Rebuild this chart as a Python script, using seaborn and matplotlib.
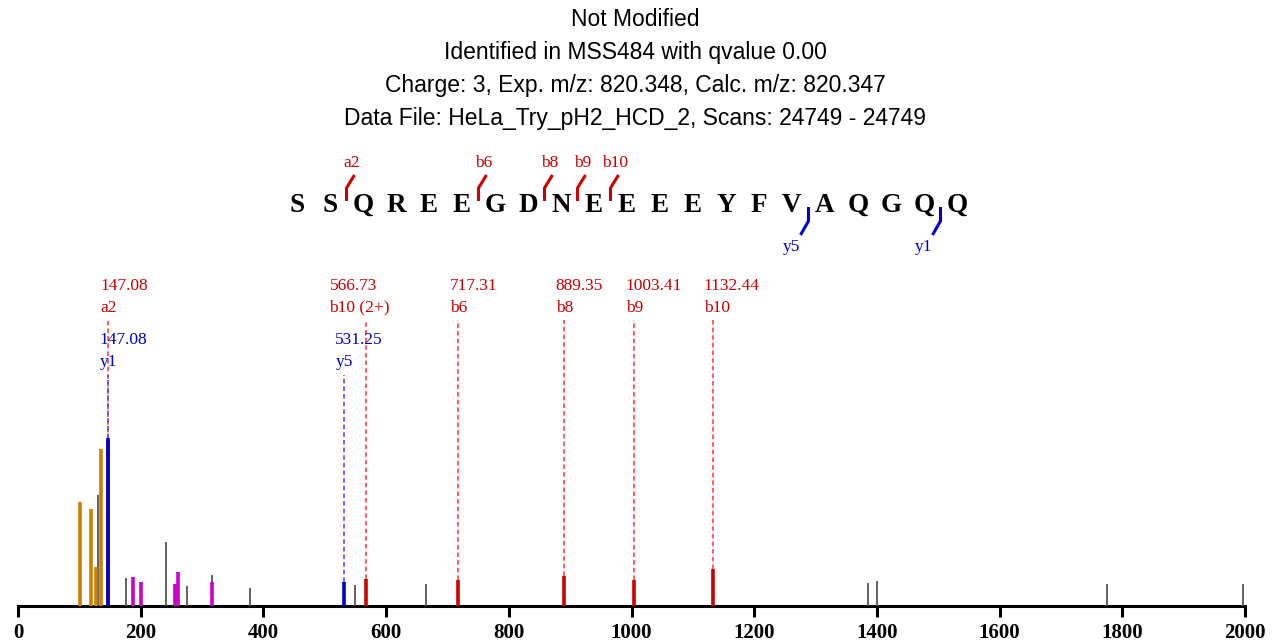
import numpy as np
import pandas as pd
import matplotlib
matplotlib.use("Agg")
import matplotlib.pyplot as plt
import seaborn as sns

# Spectrum data (relative intensity, % of base peak)
sequence = "SSQREEGDNEEEEYFVAQGQQ"
title_lines = [
    "Not Modified",
    "Identified in MSS484 with qvalue 0.00",
    "Charge: 3, Exp. m/z: 820.348, Calc. m/z: 820.347",
    "Data File: HeLa_Try_pH2_HCD_2, Scans: 24749 - 24749",
]

gray_mz = [130, 176, 241, 275.5, 316, 378, 549, 665, 1386, 1399.6, 1775, 1997]
gray_int = [65.9, 16.8, 38.3, 12.0, 18.6, 10.8, 12.6, 13.2, 13.8, 15.0, 13.2, 13.2]
orange_mz = [101, 119.5, 127, 136]
orange_int = [61.7, 57.5, 23.4, 93.4]
magenta_mz = [187.5, 200.5, 256, 260, 316]
magenta_int = [17.4, 14.4, 13.2, 20.4, 14.4]
b_mz = [147.08, 566.73, 717.31, 889.35, 1003.41, 1132.44]
b_int = [99.0, 16.2, 15.6, 18.0, 15.6, 22.2]
b_labels = ["a2", "b10 (2+)", "b6", "b8", "b9", "b10"]
y_mz = [147.08, 531.25]
y_int = [100.0, 14.4]
y_labels = ["y1", "y5"]

# fragment marks on the sequence
seq_b_sites = [2, 6, 8, 9, 10]
seq_b_names = ["a2", "b6", "b8", "b9", "b10"]
seq_y_sites = [5, 1]
seq_y_names = ["y5", "y1"]

RED = "#cc0000"
BLUE = "#0000cc"
ORANGE = "#cc8000"
MAGENTA = "#cc00cc"
GRAY = "#555555"

sns.set_theme(style="white")
plt.rcParams["font.family"] = ["Liberation Serif", "DejaVu Serif"]
plt.rcParams["text.color"] = "black"
plt.rcParams["xtick.color"] = "black"

W, H = 1273, 641
fig = plt.figure(figsize=(W / 100, H / 100), dpi=100)

# main spectrum axes
base_px, top_px = 606, 270
ax = fig.add_axes([18 / W, (H - base_px) / H, 1227 / W, (base_px - top_px) / H])
ax.set_xlim(0, 2000)
ax.set_ylim(0, 200)

peaks = pd.concat([
    pd.DataFrame({"mz": gray_mz, "intensity": gray_int, "kind": "other"}),
    pd.DataFrame({"mz": orange_mz, "intensity": orange_int, "kind": "immonium"}),
    pd.DataFrame({"mz": magenta_mz, "intensity": magenta_int, "kind": "internal"}),
    pd.DataFrame({"mz": b_mz, "intensity": b_int, "kind": "b"}),
    pd.DataFrame({"mz": y_mz, "intensity": y_int, "kind": "y"}),
])
styles = {"other": (GRAY, 1.3), "immonium": (ORANGE, 2.6),
          "internal": (MAGENTA, 2.6), "b": (RED, 2.6), "y": (BLUE, 2.6)}
for kind in ["other", "immonium", "internal", "b", "y"]:
    sub = peaks[peaks["kind"] == kind]
    color, lw = styles[kind]
    ax.vlines(sub["mz"], 0, sub["intensity"], color=color, lw=lw, zorder=3)

# annotations
label_nudge = {566.73: -59, 1132.44: -15}
for mz, inten, lab in zip(b_mz, b_int, b_labels):
    ax.plot([mz, mz], [inten, 170.5], ls=(0, (3, 2)), color="#ff3333", lw=1.1, zorder=2)
    lx = mz + label_nudge.get(mz, -13)
    ax.text(lx, 190.5, f"{mz:.2f}", color=RED, fontsize=12.5, ha="left", va="center")
    ax.text(lx, 177.5, lab, color=RED, fontsize=12.5, ha="left", va="center")
for mz, inten, lab in zip(y_mz, y_int, y_labels):
    ax.plot([mz, mz], [inten, 137.5], ls=(0, (3, 2)), color="#4444ff", lw=1.1, zorder=2.5)
    lx = mz - 14
    ax.text(lx, 158.5, f"{mz:.2f}", color=BLUE, fontsize=12.5, ha="left", va="center")
    ax.text(lx, 145, lab, color=BLUE, fontsize=12.5, ha="left", va="center")

sns.despine(ax=ax, left=True, top=True, right=True)
ax.spines["bottom"].set_linewidth(2.2)
ax.spines["bottom"].set_color("black")
ax.set_yticks([])
ax.set_xticks(np.arange(0, 2001, 200))
ax.tick_params(axis="x", direction="out", length=8, width=2.2, color="black",
               labelsize=15, pad=4, bottom=True)
for t in ax.get_xticklabels():
    t.set_fontweight("bold")
ax.set_facecolor("none")

# overlay axes in pixel coordinates for title and sequence
ov = fig.add_axes([0, 0, 1, 1], zorder=-1)
ov.set_xlim(0, W)
ov.set_ylim(H, 0)
ov.axis("off")

for i, line in enumerate(title_lines):
    ov.text(W / 2 - 1, 20 + 32.7 * i, line, ha="center", va="center", fontsize=16.5,
            family=["Liberation Sans", "DejaVu Sans"], color="black")

x0, step, yc = 297, 33, 205
for i, aa in enumerate(sequence):
    ov.text(x0 + step * i, yc, aa, ha="center", va="center", fontsize=19.5,
            fontweight="bold", color="black")

for site, name in zip(seq_b_sites, seq_b_names):
    x = x0 + step * (site - 0.5)
    ov.plot([x, x, x + 8], [201, 188, 175], color=RED, lw=2.2, solid_capstyle="butt")
    ov.text(x + 5, 163, name, ha="center", va="center", fontsize=12.5, color=RED)
for site, name in zip(seq_y_sites, seq_y_names):
    x = x0 + step * (len(sequence) - site - 0.5)
    ov.plot([x, x, x - 8], [207, 221, 235], color=BLUE, lw=2.2, solid_capstyle="butt")
    ov.text(x - 17, 247, name, ha="center", va="center", fontsize=12.5, color=BLUE)

fig.savefig("out.png", dpi=100)
